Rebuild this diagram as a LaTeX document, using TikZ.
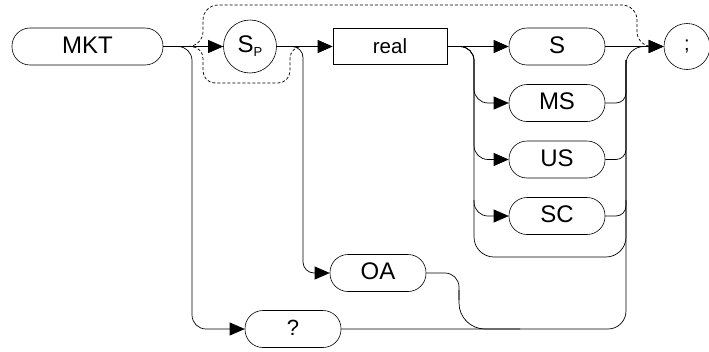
\documentclass[tikz,border=0pt]{standalone}
\usepackage{fontspec}
\setmainfont{Liberation Sans}
\usetikzlibrary{arrows.meta}
\begin{document}
\begin{tikzpicture}[x=1pt,y=-1pt,
  pill/.style={draw, line width=0.6pt, rounded corners=18pt, minimum width=96pt, minimum height=37pt, inner sep=0pt, text height=17.6pt, text depth=4.4pt, font=\fontsize{24}{28}\selectfont},
  conn/.style={line width=0.7pt},
  arr/.style={conn, -{Triangle[length=15pt,width=13pt]}},
  dsh/.style={line width=0.7pt, dash pattern=on 3pt off 2pt}]
\useasboundingbox (0,0) rectangle (709,351);
% nodes
\node[pill, minimum width=151pt] (mkt) at (87.5,46.5) {MKT};
\node[draw, line width=0.6pt, circle, minimum size=53pt, inner sep=0pt] (sp) at (250,46.5)
  {\fontsize{24}{28}\selectfont S\raisebox{-4pt}{\fontsize{13}{15}\selectfont P}};
\node[draw, line width=0.6pt, rectangle, minimum width=114pt, minimum height=36pt, inner sep=0pt, font=\fontsize{20.5}{24}\selectfont] (real) at (390,46.5) {real};
\node[pill] (s) at (557,46.5) {S};
\node[pill] (ms) at (557,103) {MS};
\node[pill] (us) at (557,159.5) {US};
\node[pill] (sc) at (557,216) {SC};
\node[pill] (oa) at (378,273) {OA};
\node[pill, font=\fontsize{22}{26}\selectfont] (q) at (293,329) {?};
\node[draw, line width=0.6pt, circle, minimum size=46pt, inner sep=0pt, font=\fontsize{20}{24}\selectfont] (semi) at (687,46.5) {;};
% connectors
\draw[arr] (mkt.east) -- (sp.west);
\draw[arr, rounded corners=14pt] (mkt.east) -- (192,46.5) -- (192,329) -- (q.west);
\draw[arr] (sp.east) -- (real.west);
\draw[arr, rounded corners=11pt] (sp.east) -- (303,46.5) -- (303,273) -- (oa.west);
\draw[arr] (real.east) -- (s.west);
\foreach \n in {ms,us,sc} \draw[arr, rounded corners=14pt] (real.east) -- (474,46.5) |- (\n.west);
\draw[conn, rounded corners=20pt] (474,200) -- (474,257) -- (626,257) -- (626,200);
\foreach \n in {ms,us,sc} \draw[conn, rounded corners=10pt] (\n.east) -| (626,60);
\draw[arr, rounded corners=18pt] (q.east) -- (626,329) -- (626,46.5) -- (semi.west);
\draw[arr] (s.east) -- (semi.west);
\draw[conn, rounded corners=14pt] (oa.east) -- (459,273) -- (459,300);
\draw[conn, rounded corners=26pt] (459,290) -- (459,329) -- (520,329);
% dashed bypass
\draw[dsh, rounded corners=15pt] (mkt.east) -- (203,46.5) -- (203,5) -- (637,5) -- (637,46.5) -- (652,46.5);
\draw[dsh, rounded corners=12pt] (mkt.east) -- (203,46.5) -- (203,83) -- (290,83) -- (290,46.5) -- (312,46.5);
\end{tikzpicture}
\end{document}
